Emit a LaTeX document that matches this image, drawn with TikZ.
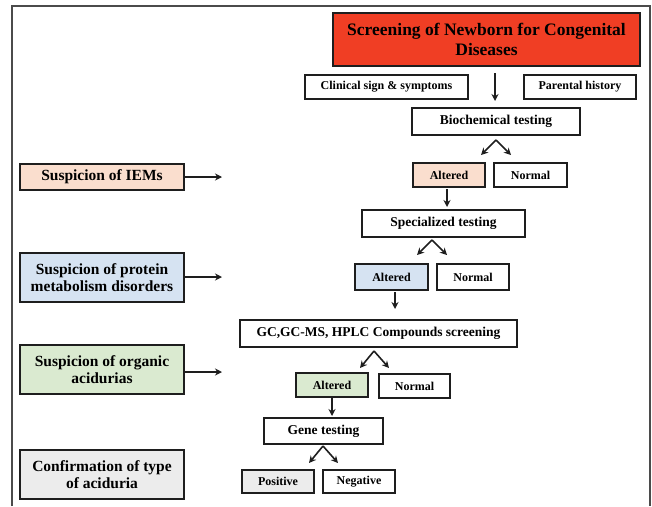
\documentclass[tikz,border=0pt]{standalone}
\usepackage{fontspec}
\setmainfont{Liberation Serif}
\usetikzlibrary{arrows.meta,calc}
\definecolor{titlered}{RGB}{240,62,36}
\definecolor{peach}{RGB}{250,222,206}
\definecolor{lblue}{RGB}{214,227,242}
\definecolor{lgreen}{RGB}{218,234,208}
\definecolor{lgray}{RGB}{236,236,236}
\definecolor{edge}{RGB}{30,30,30}
\tikzset{
  box/.style={draw=edge, line width=1.8pt, inner sep=1pt, align=center, font=\bfseries},
  sidebox/.style={box, minimum width=164pt, font=\bfseries\fontsize{15.5}{17}\selectfont},
  midbox/.style={box, font=\bfseries\fontsize{13.5}{15}\selectfont},
  smallbox/.style={box, font=\bfseries\fontsize{12}{14}\selectfont},
  arr/.style={-{Stealth[length=7pt,width=7pt]}, line width=1.6pt, draw=edge},
}
\begin{document}
\begin{tikzpicture}[x=1pt,y=-1pt]
\useasboundingbox (0,0) rectangle (652,506);
\draw[line width=1.4pt, draw=edge!80] (12,506) -- (12,6) -- (650,6) -- (650,506);

% top
\node[box, fill=titlered, minimum width=307pt, minimum height=53pt, font=\bfseries\fontsize{17.5}{20}\selectfont] (title) at (486.5,39.5) {Screening of Newborn for Congenital\\Diseases};
\node[smallbox, minimum width=163pt, minimum height=24pt] (clin) at (386.5,87) {Clinical sign \& symptoms};
\node[smallbox, minimum width=112pt, minimum height=24pt] (par) at (580,87) {Parental history};
\node[midbox, minimum width=168pt, minimum height=27pt] (bio) at (496,121.5) {Biochemical testing};
\coordinate (a0) at (495,73);
\coordinate (a1) at (495,101);
\draw[arr] (a0) -- (a1);

% level 1
\node[sidebox, fill=peach, minimum height=26pt] (iem) at (102,177) {Suspicion of IEMs};
\coordinate (iemT) at (222,177);
\draw[arr] (iem.east |- iemT) -- (iemT);
\node[smallbox, fill=peach, minimum width=72pt, minimum height=24pt] (alt1) at (449,175) {Altered};
\node[smallbox, minimum width=73pt, minimum height=24pt] (nor1) at (530.5,175) {Normal};
\coordinate (f1) at (496,140);
\coordinate (f1l) at (481,155);
\coordinate (f1r) at (511,155);
\draw[arr] (f1) -- (f1l);
\draw[arr] (f1) -- (f1r);
\node[midbox, minimum width=163pt, minimum height=27pt] (spec) at (443.5,223.5) {Specialized testing};
\coordinate (d1a) at (447,189);
\coordinate (d1b) at (447,207);
\draw[arr] (d1a) -- (d1b);

% level 2
\node[sidebox, fill=lblue, minimum height=49pt] (prot) at (102,277.5) {Suspicion of protein\\metabolism disorders};
\coordinate (protT) at (222,277);
\draw[arr] (prot.east |- protT) -- (protT);
\node[smallbox, fill=lblue, minimum width=73pt, minimum height=26pt] (alt2) at (391.5,277) {Altered};
\node[smallbox, minimum width=72pt, minimum height=26pt] (nor2) at (473,277) {Normal};
\coordinate (f2) at (432,240);
\coordinate (f2l) at (417,255);
\coordinate (f2r) at (447,255);
\draw[arr] (f2) -- (f2l);
\draw[arr] (f2) -- (f2r);
\node[midbox, minimum width=277pt, minimum height=27pt] (gc) at (378.5,333.5) {GC,GC-MS, HPLC Compounds screening};
\coordinate (d2a) at (395,292);
\coordinate (d2b) at (395,309);
\draw[arr] (d2a) -- (d2b);

% level 3
\node[sidebox, fill=lgreen, minimum height=49pt] (org) at (102,369.5) {Suspicion of organic\\acidurias};
\coordinate (orgT) at (222,372);
\draw[arr] (org.east |- orgT) -- (orgT);
\node[smallbox, fill=lgreen, minimum width=72pt, minimum height=24pt] (alt3) at (332,385) {Altered};
\node[smallbox, minimum width=71pt, minimum height=24pt] (nor3) at (414.5,386) {Normal};
\coordinate (f3) at (374,351);
\coordinate (f3l) at (360,368);
\coordinate (f3r) at (389,368);
\draw[arr] (f3) -- (f3l);
\draw[arr] (f3) -- (f3r);
\node[midbox, minimum width=119pt, minimum height=26pt] (gene) at (323.5,431) {Gene testing};
\coordinate (d3a) at (332,398);
\coordinate (d3b) at (332,416);
\draw[arr] (d3a) -- (d3b);

% level 4
\node[sidebox, fill=lgray, minimum height=49pt] (conf) at (102,474.5) {Confirmation of type\\of aciduria};
\node[smallbox, fill=lgray, minimum width=72pt, minimum height=23pt] (pos) at (278,481.5) {Positive};
\node[smallbox, minimum width=72pt, minimum height=23pt] (neg) at (359,481.5) {Negative};
\coordinate (f4) at (323,446);
\coordinate (f4l) at (309,463);
\coordinate (f4r) at (338,463);
\draw[arr] (f4) -- (f4l);
\draw[arr] (f4) -- (f4r);
\end{tikzpicture}
\end{document}
